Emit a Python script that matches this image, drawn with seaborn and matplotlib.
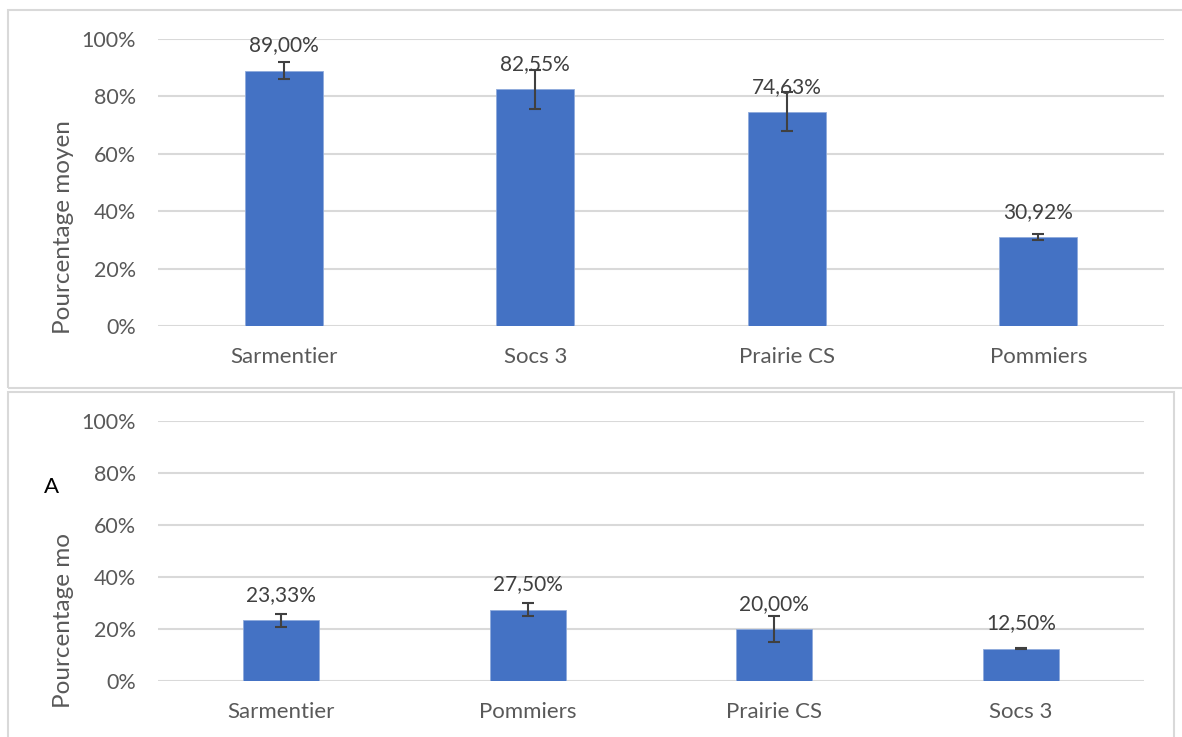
import matplotlib
matplotlib.use("Agg")
import pandas as pd
import matplotlib.pyplot as plt
import seaborn as sns
from matplotlib.patches import Rectangle

# Data
top_sites = ["Sarmentier", "Socs 3", "Prairie CS", "Pommiers"]
top_means = [89.00, 82.55, 74.63, 30.92]
top_err = [3.0, 6.8, 6.8, 1.0]

bottom_sites = ["Sarmentier", "Pommiers", "Prairie CS", "Socs 3"]
bottom_means = [23.33, 27.50, 20.00, 12.50]
bottom_err = [2.6, 2.4, 5.0, 0.2]

y_ticks = [0, 20, 40, 60, 80, 100]

BLUE = "#4472C4"
GRID = "#D9D9D9"
TEXT = "#595959"
LABEL = "#404040"

sns.set_theme(style="white")
plt.rcParams["font.family"] = ["Lato", "DejaVu Sans"]

W, H = 1182, 737
fig = plt.figure(figsize=(W / 100, H / 100), dpi=100)


def px_rect(x0, y0, x1, y1):
    # pixel box (from top-left) -> figure fraction [left, bottom, width, height]
    return [x0 / W, 1 - y1 / H, (x1 - x0) / W, (y1 - y0) / H]


# chart borders
for (x0, y0, x1, y1) in [(8, 10, 1200, 388), (8, 392, 1174, 760)]:
    l, b, w, h = px_rect(x0, y0, x1, y1)
    fig.patches.append(Rectangle((l, b), w, h, transform=fig.transFigure,
                                 fill=False, edgecolor=GRID, linewidth=1.5))


def draw_panel(ax, sites, means, errs):
    df = pd.DataFrame({"site": sites, "mean": means})
    sns.barplot(data=df, x="site", y="mean", color=BLUE, width=0.31,
                errorbar=None, ax=ax, edgecolor="#8FAADC", linewidth=0.6,
                saturation=1)
    ax.errorbar(range(len(sites)), means, yerr=errs, fmt="none",
                ecolor=LABEL, elinewidth=1.5, capsize=4, capthick=1.5)
    for i, m in enumerate(means):
        ax.annotate(f"{m:.2f}%".replace(".", ","), (i, m), xytext=(0, 18),
                    textcoords="offset points", ha="center", va="center",
                    fontsize=15, color=LABEL)
    ax.set_xlim(-0.5, len(sites) - 0.5)
    ax.set_ylim(0, 100)
    ax.set_yticks(y_ticks)
    ax.set_yticklabels([f"{t}%" for t in y_ticks])
    ax.yaxis.grid(True, color=GRID, linewidth=1.5)
    ax.set_axisbelow(True)
    for s in ax.spines.values():
        s.set_visible(False)
    ax.tick_params(axis="y", length=0, pad=16, labelsize=15.5, labelcolor=TEXT)
    ax.tick_params(axis="x", length=0, pad=15, labelsize=16, labelcolor=TEXT)
    ax.set_xlabel("")
    ax.set_ylabel("")


ax1 = fig.add_axes(px_rect(158, 39, 1164, 326))
draw_panel(ax1, top_sites, top_means, top_err)

ax2 = fig.add_axes(px_rect(158, 421, 1144, 681))
draw_panel(ax2, bottom_sites, bottom_means, bottom_err)

fig.text(63 / W, 1 - 334 / H, "Pourcentage moyen", rotation=90, ha="center",
         va="bottom", fontsize=17.5, color=TEXT)
fig.text(63 / W, 1 - 708 / H, "Pourcentage mo", rotation=90, ha="center",
         va="bottom", fontsize=17.5, color=TEXT)
fig.text(52 / W, 1 - 487 / H, "A", ha="center", va="center", fontsize=16,
         color="black")

fig.savefig("out.png", dpi=100)
